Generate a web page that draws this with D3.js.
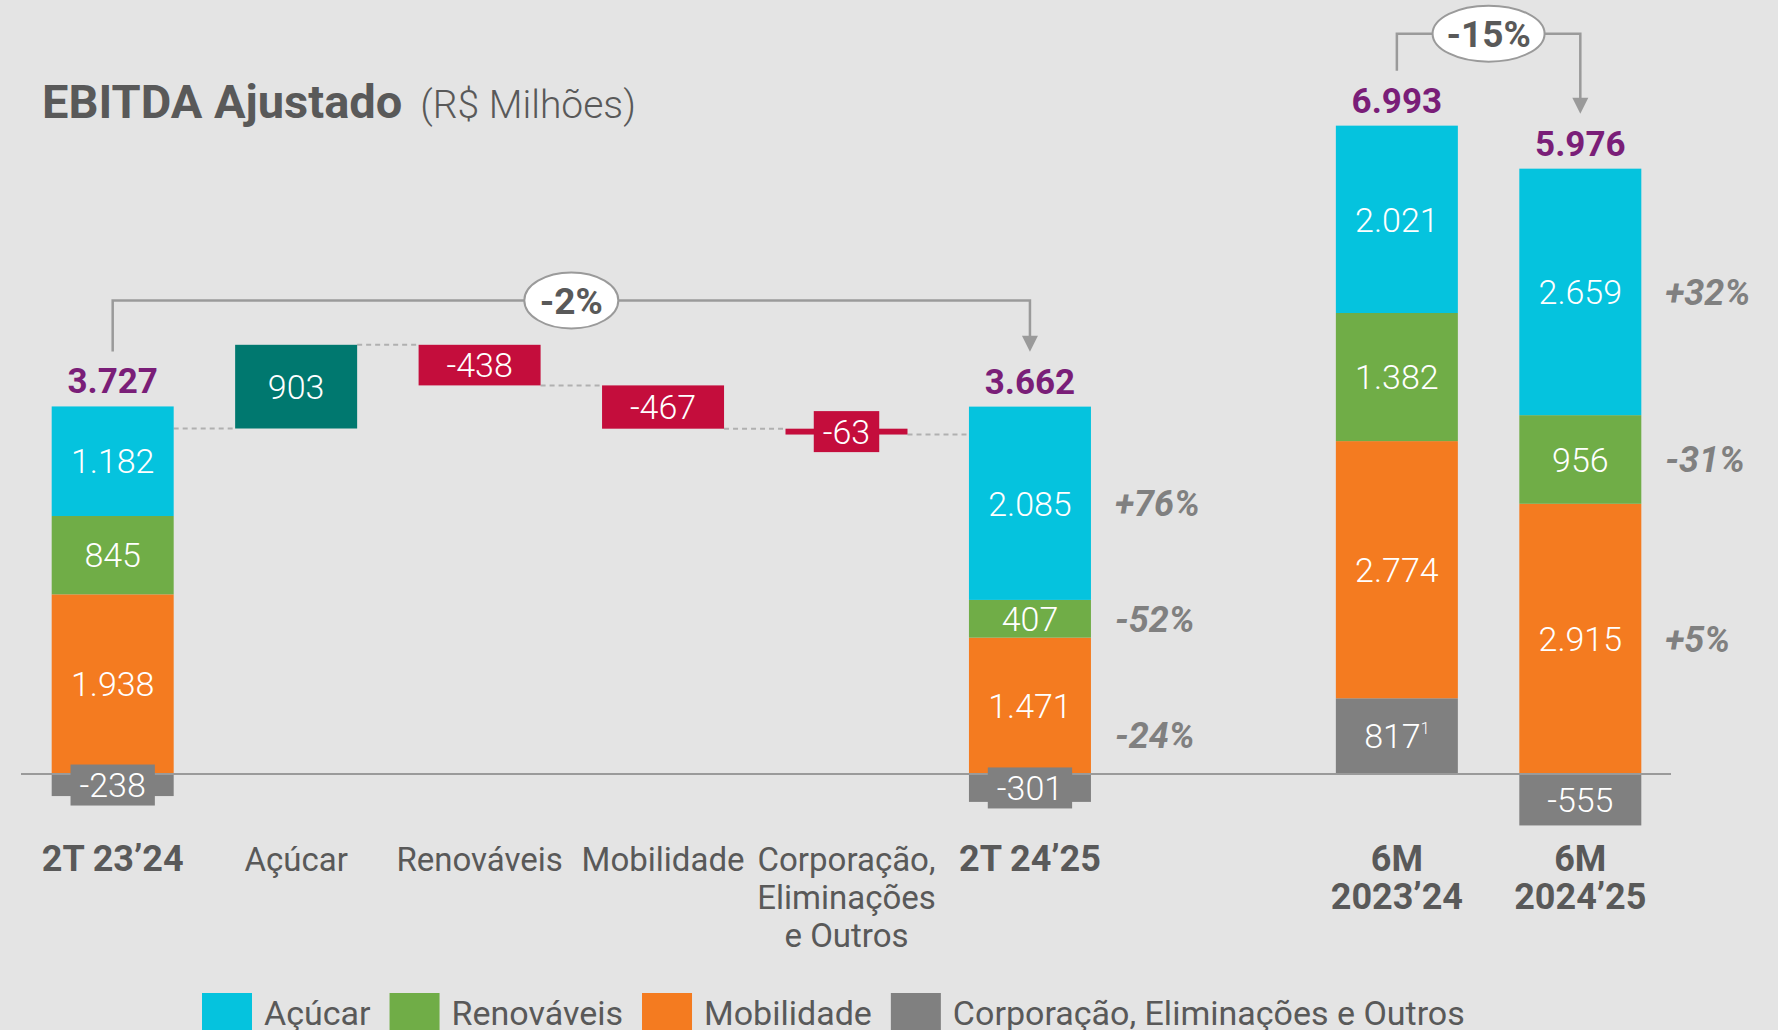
<!DOCTYPE html>
<html>
<head>
<meta charset="utf-8">
<script src="https://cdn.jsdelivr.net/npm/d3@7"></script>
<style>
  html, body { margin: 0; padding: 0; background: #e4e4e4; overflow: hidden; }
  svg { display: block; font-family: Roboto, "DejaVu Sans", sans-serif; }
</style>
</head>
<body>
<svg id="chart" width="1778" height="1030"></svg>
<script>
// x categories ("" = empty slot before the 6M bars)
const categories = ["2T 23’24", "Açúcar", "Renováveis", "Mobilidade", "Corporação", "2T 24’25", "", "6M 2023’24", "6M 2024’25"];
const categoryLines = [["2T 23’24"], ["Açúcar"], ["Renováveis"], ["Mobilidade"], ["Corporação,", "Eliminações", "e Outros"], ["2T 24’25"], [], ["6M", "2023’24"], ["6M", "2024’25"]];
const boldCategories = ["2T 23’24", "2T 24’25", "6M 2023’24", "6M 2024’25"];

// stacked bars
const stackCategories = ["2T 23’24", "2T 24’25", "6M 2023’24", "6M 2024’25"];
const acucar = [1182, 2085, 2021, 2659];
const renovaveis = [845, 407, 1382, 956];
const mobilidade = [1938, 1471, 2774, 2915];
const corporacao = [-238, -301, 817, -555];
const corporacaoNote = ["", "", "1", ""];
const totals = [3727, 3662, 6993, 5976];

// bridge 2T 23'24 -> 2T 24'25
const bridgeCategories = ["Açúcar", "Renováveis", "Mobilidade", "Corporação"];
const bridgeDeltas = [903, -438, -467, -63];

// variation labels next to the bars
const varCategories = ["2T 24’25", "6M 2024’25"];
const varAcucar = ["+76%", "+32%"];
const varRenovaveis = ["-52%", "-31%"];
const varMobilidade = ["-24%", "+5%"];

// comparison brackets
const compFrom = ["2T 23’24", "6M 2023’24"];
const compTo = ["2T 24’25", "6M 2024’25"];
const compLabels = ["-2%", "-15%"];

// legend
const legendNames = ["Açúcar", "Renováveis", "Mobilidade", "Corporação, Eliminações e Outros"];

const seriesKeys = ["corporacao", "mobilidade", "renovaveis", "acucar"];
const color = {
  acucar: "#05c3de",
  renovaveis: "#70ad47",
  mobilidade: "#f47b20",
  corporacao: "#808080"
};
const legendKeys = ["acucar", "renovaveis", "mobilidade", "corporacao"];
const upColor = "#00786f", downColor = "#c40d3c", totalColor = "#7a1e78";
const textGray = "#595959", lineGray = "#9a9a9a";

const fmt = d3.formatLocale({ decimal: ",", thousands: ".", grouping: [3], currency: ["R$", ""], minus: "-" }).format(",d");

const svg = d3.select("#chart");

// scales
const x = d3.scaleBand()
  .domain(categories)
  .range([15, 1678])
  .paddingInner(0.335)
  .paddingOuter(0.2);
const bw = x.bandwidth();

const y = d3.scaleLinear()
  .domain([0, 7000])
  .range([774, 125.1]);

// title
const title = svg.append("text")
  .attr("x", 42).attr("y", 118)
  .attr("fill", textGray);
title.append("tspan").attr("font-size", 47).attr("font-weight", 700).text("EBITDA Ajustado");
title.append("tspan").attr("font-size", 39).attr("font-weight", 300).attr("dx", 18).text("(R$ Milhões)");

// stacked data
const rows = stackCategories.map((c, i) => ({
  cat: c, acucar: acucar[i], renovaveis: renovaveis[i], mobilidade: mobilidade[i], corporacao: corporacao[i], note: corporacaoNote[i]
}));
const series = d3.stack().keys(seriesKeys).offset(d3.stackOffsetDiverging)(rows);

// bridge data
let running = totals[0];
const bridge = bridgeCategories.map((c, i) => {
  const d = { cat: c, v0: running, v1: running + bridgeDeltas[i], delta: bridgeDeltas[i] };
  running += bridgeDeltas[i];
  return d;
});

// dashed connectors
const connectors = [{ from: stackCategories[0], to: bridge[0].cat, v: bridge[0].v0 }];
bridge.forEach((b, i) => {
  const next = i < bridge.length - 1 ? bridge[i + 1].cat : stackCategories[1];
  connectors.push({ from: b.cat, to: next, v: b.v1 });
});
svg.append("g").selectAll("line")
  .data(connectors)
  .join("line")
  .attr("x1", d => x(d.from) + bw)
  .attr("x2", d => x(d.to))
  .attr("y1", d => y(d.v))
  .attr("y2", d => y(d.v))
  .attr("stroke", "#b0b0b0")
  .attr("stroke-width", 2)
  .attr("stroke-dasharray", "5,4");

// stacked bars
const segs = [];
series.forEach(s => s.forEach(d => {
  if (d[1] - d[0] !== 0) segs.push({ key: s.key, cat: d.data.cat, v0: d[0], v1: d[1], value: d.data[s.key], note: s.key === "corporacao" ? d.data.note : "" });
}));

svg.append("g").selectAll("rect")
  .data(segs)
  .join("rect")
  .attr("x", d => x(d.cat))
  .attr("width", bw)
  .attr("y", d => y(d.v1))
  .attr("height", d => y(d.v0) - y(d.v1))
  .attr("fill", d => color[d.key]);

// bridge bars
svg.append("g").selectAll("rect")
  .data(bridge)
  .join("rect")
  .attr("x", d => x(d.cat))
  .attr("width", bw)
  .attr("y", d => y(Math.max(d.v0, d.v1)))
  .attr("height", d => Math.abs(y(d.v0) - y(d.v1)))
  .attr("fill", d => d.delta > 0 ? upColor : downColor);

// zero line
svg.append("line")
  .attr("x1", 21).attr("x2", 1671)
  .attr("y1", y(0)).attr("y2", y(0))
  .attr("stroke", lineGray)
  .attr("stroke-width", 2);

// value labels (with a box when the segment is too thin)
const labels = segs.map(d => ({ cx: x(d.cat) + bw / 2, ya: y(d.v1), yb: y(d.v0), text: fmt(d.value), note: d.note, fill: color[d.key] }))
  .concat(bridge.map(d => ({ cx: x(d.cat) + bw / 2, ya: y(Math.max(d.v0, d.v1)), yb: y(Math.min(d.v0, d.v1)), text: fmt(d.delta), note: "", fill: d.delta > 0 ? upColor : downColor })));

const lg = svg.append("g");
labels.forEach(d => {
  const cy = (d.ya + d.yb) / 2;
  const g = lg.append("g");
  const box = g.append("rect");
  const t = g.append("text")
    .attr("x", d.cx).attr("y", cy).attr("dy", "0.36em")
    .attr("text-anchor", "middle")
    .attr("fill", "#fff")
    .attr("font-size", 34)
    .attr("font-weight", 300)
    .text(d.text);
  if (d.note) t.append("tspan").attr("font-size", 16).attr("dy", "-0.9em").text(d.note);
  if (d.yb - d.ya < 35) {
    const w = t.node().getComputedTextLength() + 18;
    box.attr("x", d.cx - w / 2).attr("width", w)
      .attr("y", cy - 20.5).attr("height", 41)
      .attr("fill", d.fill);
  } else box.remove();
});

// totals above bars
svg.append("g").selectAll("text")
  .data(stackCategories)
  .join("text")
  .attr("x", d => x(d) + bw / 2)
  .attr("y", (d, i) => y(d3.sum([acucar[i], renovaveis[i], mobilidade[i], Math.max(0, corporacao[i])])) - 13)
  .attr("text-anchor", "middle")
  .attr("fill", totalColor)
  .attr("font-size", 35)
  .attr("font-weight", 700)
  .text((d, i) => fmt(totals[i]));

// variation labels
const pctNudge = { "-24%": 29 };
const vg = svg.append("g");
varCategories.forEach((c, i) => {
  const vals = { acucar: varAcucar[i], renovaveis: varRenovaveis[i], mobilidade: varMobilidade[i] };
  Object.keys(vals).forEach(k => {
    const sd = segs.find(s => s.cat === c && s.key === k);
    vg.append("text")
      .attr("x", x(c) + bw + 24)
      .attr("y", (y(sd.v0) + y(sd.v1)) / 2 + (pctNudge[vals[k]] || 0))
      .attr("dy", "0.36em")
      .attr("fill", "#808080")
      .attr("font-size", 36)
      .attr("font-weight", 700)
      .attr("font-style", "italic")
      .text(vals[k]);
  });
});

// comparison brackets
const bracketRise = [51, 37];
const ellipseRx = [47, 56];
const bg = svg.append("g");
const stackTop = c => {
  const i = stackCategories.indexOf(c);
  return y(acucar[i] + renovaveis[i] + mobilidade[i] + Math.max(0, corporacao[i]));
};
compFrom.forEach((f, i) => {
  const xa = x(f) + bw / 2, xb = x(compTo[i]) + bw / 2;
  const ya = stackTop(f) - 55;
  const yb = stackTop(compTo[i]) - 55;
  const yt = Math.min(ya, yb) - bracketRise[i];
  bg.append("path")
    .attr("d", `M${xa},${ya}V${yt}H${xb}V${yb - 14}`)
    .attr("fill", "none")
    .attr("stroke", lineGray)
    .attr("stroke-width", 2.5);
  bg.append("path")
    .attr("d", `M${xb - 8},${yb - 16}L${xb + 8},${yb - 16}L${xb},${yb}Z`)
    .attr("fill", lineGray);
  const cx = (xa + xb) / 2;
  bg.append("ellipse")
    .attr("cx", cx).attr("cy", yt)
    .attr("rx", ellipseRx[i]).attr("ry", 28)
    .attr("fill", "#fff")
    .attr("stroke", lineGray)
    .attr("stroke-width", 2);
  bg.append("text")
    .attr("x", cx).attr("y", yt).attr("dy", "0.36em")
    .attr("text-anchor", "middle")
    .attr("fill", textGray)
    .attr("font-size", 37)
    .attr("font-weight", 700)
    .text(compLabels[i]);
});

// category labels
const cg = svg.append("g");
categories.forEach((c, i) => {
  const bold = boldCategories.includes(c);
  const t = cg.append("text")
    .attr("x", x(c) + bw / 2)
    .attr("y", 871)
    .attr("text-anchor", "middle")
    .attr("fill", textGray)
    .attr("font-size", bold ? 36 : 33)
    .attr("font-weight", bold ? 700 : 400);
  categoryLines[i].forEach((line, j) => {
    t.append("tspan").attr("x", x(c) + bw / 2).attr("dy", j === 0 ? 0 : 38).text(line);
  });
});

// legend (cut by the bottom edge, as in the source slide)
const leg = svg.append("g");
let lx = 202;
legendKeys.forEach((k, i) => {
  leg.append("rect")
    .attr("x", lx).attr("y", 993)
    .attr("width", 50).attr("height", 50)
    .attr("fill", color[k]);
  const t = leg.append("text")
    .attr("x", lx + 62).attr("y", 1025)
    .attr("fill", textGray)
    .attr("font-size", 34)
    .text(legendNames[i]);
  lx += 62 + t.node().getComputedTextLength() + 19;
});
</script>
</body>
</html>
